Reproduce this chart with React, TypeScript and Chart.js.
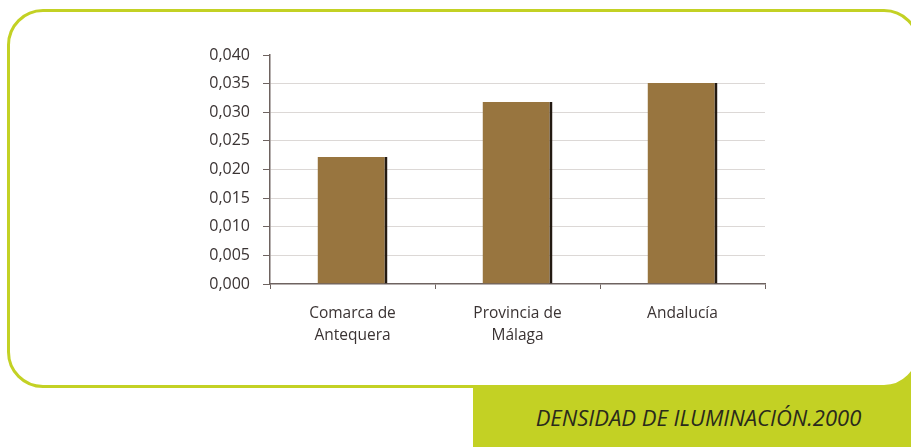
import React, { useEffect, useRef } from "react";
import { Chart, registerables } from "chart.js";

Chart.register(...registerables);

const categories: string[][] = [["Comarca de", "Antequera"], ["Provincia de", "Málaga"], ["Andalucía"]];
const values: number[] = [0.0222, 0.0318, 0.0351];
const yTicks: number[] = [0, 0.005, 0.01, 0.015, 0.02, 0.025, 0.03, 0.035, 0.04];
const title = "DENSIDAD DE ILUMINACIÓN.2000";

const GREEN = "rgb(195,209,36)";
const AXIS = "#6e6360";

export default function App() {
  const ref = useRef<HTMLCanvasElement | null>(null);

  useEffect(() => {
    if (!ref.current) return;
    const chart = new Chart(ref.current, {
      type: "bar",
      data: {
        labels: categories,
        datasets: [
          {
            data: values,
            backgroundColor: "#98753f",
            borderColor: "#231a12",
            borderWidth: { right: 3, top: 0, left: 0, bottom: 0 },
            borderSkipped: false,
            barPercentage: 0.424,
            categoryPercentage: 1,
          },
        ],
      },
      options: {
        animation: false,
        responsive: false,
        maintainAspectRatio: false,
        layout: { padding: { left: 0, right: 146, top: 55, bottom: 0 } },
        plugins: { legend: { display: false }, tooltip: { enabled: false } },
        scales: {
          x: {
            offset: true,
            grid: {
              offset: true,
              drawOnChartArea: false,
              drawTicks: true,
              tickLength: 5,
              tickColor: AXIS,
              lineWidth: 1,
            },
            border: { color: AXIS, width: 1.5 },
            ticks: {
              color: "#3a3333",
              font: { family: "Open Sans", size: 15.5, lineHeight: 1.4 },
              padding: 14,
              maxRotation: 0,
            },
            afterFit: (s: any) => {
              s.height = 447 - 284;
            },
          },
          y: {
            min: 0,
            max: 0.04,
            afterBuildTicks: (s: any) => {
              s.ticks = yTicks.map((v) => ({ value: v }));
            },
            grid: {
              color: (ctx: any) =>
                ctx.tick && (ctx.tick.value === 0 || ctx.tick.value === 0.04) ? "rgba(0,0,0,0)" : "#dcd8d6",
              tickColor: AXIS,
              tickLength: 7,
              lineWidth: 1,
            },
            border: { color: AXIS, width: 1.5 },
            ticks: {
              color: "#3a3333",
              font: { family: "Open Sans", size: 16 },
              padding: 13,
              callback: (v: any) => Number(v).toFixed(3).replace(".", ","),
            },
            afterFit: (s: any) => {
              s.width = 270;
            },
          },
        },
      },
    });
    return () => chart.destroy();
  }, []);

  return (
    <div style={{ position: "fixed", left: 0, top: 0, width: 911, height: 447, overflow: "hidden", background: "#fff" }}>
      <div
        style={{
          position: "absolute",
          left: 473,
          top: 370,
          width: 438,
          height: 77,
          background: GREEN,
        }}
      />
      <div
        style={{
          position: "absolute",
          left: 7,
          top: 9,
          width: 920 - 7 - 6,
          height: 388 - 9 - 6,
          border: `3px solid ${GREEN}`,
          borderRadius: 36,
          background: "#fff",
        }}
      />
      <div
        style={{
          position: "absolute",
          left: 473,
          top: 388,
          width: 438,
          height: 57,
          display: "flex",
          alignItems: "center",
          justifyContent: "center",
          fontFamily: "Open Sans",
          fontStyle: "italic",
          fontSize: 22,
          color: "#2a2a1c",
          paddingLeft: 13,
          boxSizing: "border-box",
        }}
      >
        {title}
      </div>
      <canvas ref={ref} width={911} height={447} style={{ position: "absolute", left: 0, top: 0 }} />
    </div>
  );
}
